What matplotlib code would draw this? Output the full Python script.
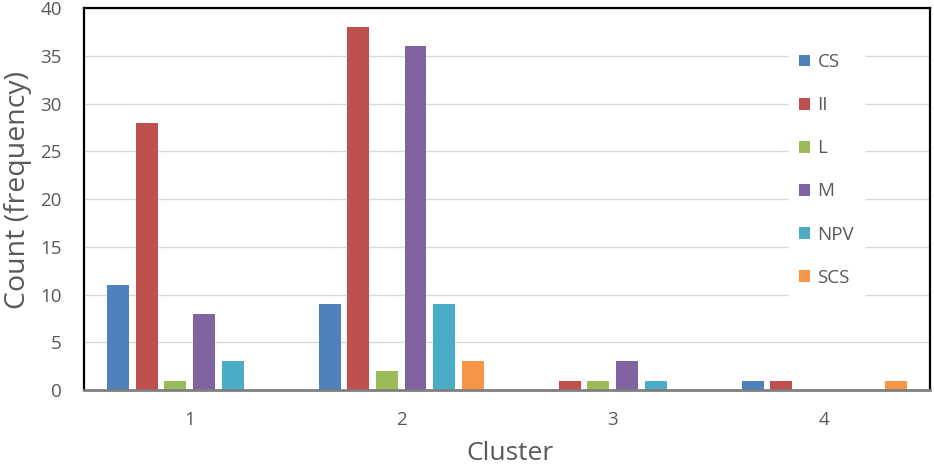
import numpy as np
from matplotlib import pyplot as plt

clusters = ['1', '2', '3', '4']
series = ['CS', 'II', 'L', 'M', 'NPV', 'SCS']
cs = [11, 9, 0, 1]
ii = [28, 38, 1, 1]
l_vals = [1, 2, 1, 0]
m_vals = [8, 36, 3, 0]
npv = [3, 9, 1, 0]
scs = [0, 3, 0, 1]
colorlst = ['#4F81BD', '#C0504D', '#9BBB59', '#8064A2', '#4BACC6', '#F79646']

plt.rcParams['font.family'] = ['Open Sans', 'DejaVu Sans']
gray = '#595959'

fig = plt.figure(figsize=(9.34, 4.70), dpi=100)
ax = fig.add_axes([0.0899, 0.170, 0.9058, 0.813])

values = [cs, ii, l_vals, m_vals, npv, scs]
xtick = np.arange(len(clusters))
step = 0.135
barwidth = 0.104
for i, (vals, color, label) in enumerate(zip(values, colorlst, series)):
    ax.bar(xtick + (i - 2.5) * step, vals, width=barwidth, color=color, label=label, zorder=3)

ax.set_xlim(-0.5, len(clusters) - 0.5)
ax.set_ylim(0, 40)
ax.set_yticks(range(0, 41, 5))
ax.set_xticks(xtick, clusters)
ax.grid(axis='y', color='#d9d9d9', linewidth=1, zorder=0)
ax.tick_params(length=0, labelsize=13.5, colors=gray)
ax.tick_params(axis='y', pad=16)
ax.tick_params(axis='x', pad=15)

for side in ['left', 'top', 'right']:
    ax.spines[side].set_color('black')
    ax.spines[side].set_linewidth(1.6)
ax.spines['bottom'].set_color('#7f7f7f')
ax.spines['bottom'].set_linewidth(2)
ax.spines['bottom'].set_zorder(4)

ax.set_xlabel('Cluster', fontsize=19, color=gray)
ax.set_ylabel('Count (frequency)', fontsize=20.5, color=gray)
ax.xaxis.set_label_coords(0.5035, -0.132)
ax.yaxis.set_label_coords(-0.061, 0.524)

leg = ax.legend(loc='upper left', bbox_to_anchor=(0.833, 0.908), frameon=True,
                fontsize=13.5, labelspacing=1.34, handlelength=0.6, handleheight=0.6,
                handletextpad=0.4, borderpad=0.53, borderaxespad=0, fancybox=False)
leg.get_frame().set_edgecolor('white')
leg.get_frame().set_facecolor('white')
leg.get_frame().set_alpha(1)
for t in leg.get_texts():
    t.set_color(gray)

plt.savefig('out.png', dpi=100)
plt.close()
